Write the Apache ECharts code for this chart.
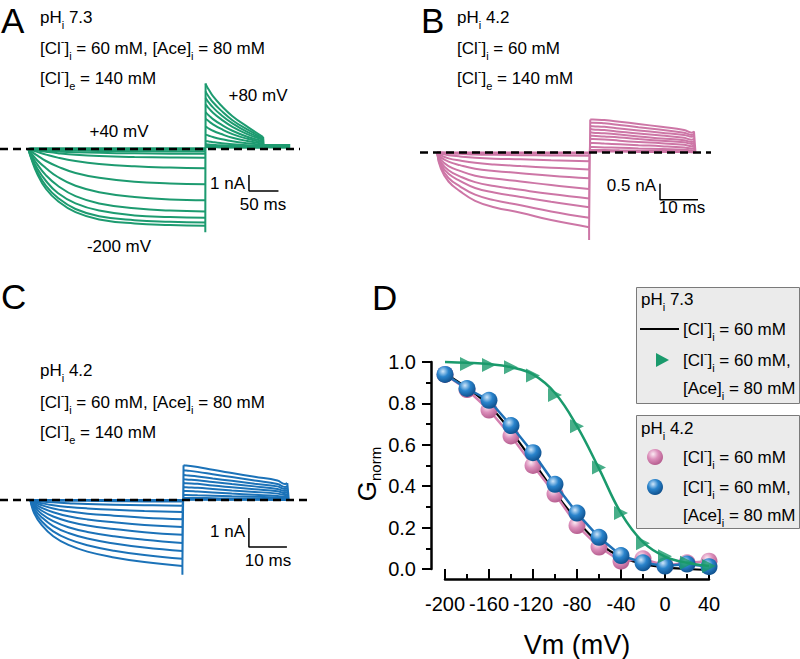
<!DOCTYPE html>
<html><head><meta charset="utf-8">
<script src="https://cdn.jsdelivr.net/npm/echarts@6/dist/echarts.min.js"></script>
<style>html,body{margin:0;padding:0;background:#fff}#c{width:800px;height:659px}</style>
</head><body><div id="c"></div>
<script>
// ---------------- Panel D data (G/Gmax vs Vm) ----------------
const vm = [-200,-180,-160,-140,-120,-100,-80,-60,-40,-20,0,20,40];
const vmTri = [-180,-160,-140,-120,-100,-80,-60,-40,-20,0,20,40];
const gFitPH73Cl = [0.945,0.875,0.79,0.665,0.52,0.37,0.235,0.125,0.058,0.025,0.008,0.0,-0.005];
const gPH73Ace = [0.99,0.986,0.975,0.935,0.84,0.69,0.49,0.27,0.125,0.062,0.03,0.015];
const gFitPH73Ace = [1.0,0.996,0.99,0.975,0.94,0.85,0.69,0.485,0.27,0.13,0.06,0.03,0.015];
const gPH42Cl = [0.94,0.867,0.768,0.643,0.50,0.362,0.21,0.106,0.038,0.049,0.017,0.03,0.038];
const gPH42Ace = [0.94,0.872,0.815,0.693,0.562,0.409,0.27,0.153,0.065,0.03,0.014,0.024,0.011];
const xTicks = [-200,-160,-120,-80,-40,0,40];
const yTicks = [0.0,0.2,0.4,0.6,0.8,1.0];

// ---------------- Panel A traces (nA vs ms), pHi 7.3, Cl 60 + Ace 80 ----------------
const tA_pulse = [0,5,15,30,50,80,120,180,240,300];
const A_pulse = [
 [0,0.05,0.05,0.05,0.05,0.05,0.05,0.05,0.05,0.05],
 [0,-0.01,-0.01,-0.02,-0.02,-0.02,-0.02,-0.02,-0.02,-0.02],
 [0,-0.01,-0.02,-0.03,-0.04,-0.05,-0.05,-0.05,-0.05,-0.05],
 [0,-0.01,-0.03,-0.05,-0.08,-0.1,-0.12,-0.14,-0.15,-0.15],
 [0,-0.02,-0.05,-0.1,-0.15,-0.2,-0.24,-0.27,-0.29,-0.3],
 [0,-0.03,-0.09,-0.17,-0.26,-0.36,-0.44,-0.5,-0.53,-0.55],
 [0,-0.06,-0.18,-0.35,-0.54,-0.75,-0.93,-1.08,-1.16,-1.2],
 [0,-0.15,-0.4,-0.75,-1.1,-1.5,-1.8,-2.05,-2.15,-2.2],
 [0,-0.25,-0.7,-1.2,-1.75,-2.3,-2.7,-3.0,-3.15,-3.2],
 [0,-0.35,-0.95,-1.65,-2.3,-2.95,-3.4,-3.7,-3.85,-3.9],
 [0,-0.45,-1.2,-2.0,-2.75,-3.4,-3.85,-4.15,-4.25,-4.3],
 [0,-0.55,-1.4,-2.3,-3.05,-3.75,-4.2,-4.45,-4.55,-4.6],
 [0,-0.6,-1.55,-2.5,-3.25,-3.95,-4.4,-4.65,-4.75,-4.8]
];
const tA_tail = [300.5,302,306,313,326,346,371,398];
const A_tail = [
 [0.12,0.12,0.11,0.11,0.1,0.1,0.09,0.09],
 [0.15,0.15,0.14,0.13,0.12,0.11,0.1,0.1],
 [0.2,0.2,0.19,0.18,0.16,0.14,0.13,0.12],
 [0.3,0.29,0.28,0.26,0.23,0.2,0.17,0.15],
 [0.5,0.49,0.47,0.43,0.37,0.3,0.24,0.2],
 [0.9,0.88,0.83,0.75,0.63,0.48,0.36,0.27],
 [1.4,1.37,1.28,1.14,0.95,0.7,0.5,0.35],
 [1.9,1.85,1.73,1.54,1.27,0.93,0.64,0.42],
 [2.3,2.24,2.1,1.87,1.55,1.14,0.77,0.5],
 [2.8,2.72,2.54,2.27,1.88,1.38,0.93,0.57],
 [3.2,3.1,2.9,2.6,2.15,1.6,1.07,0.63],
 [3.6,3.48,3.26,2.92,2.43,1.8,1.22,0.69],
 [4.1,3.95,3.7,3.3,2.75,2.05,1.4,0.75]
];
const tA_after = [399,444];
const A_after = [0.08,0.09,0.1,0.12,0.13,0.15,0.16,0.18,0.19,0.2,0.22,0.23,0.25];
const A_capSpike = -0.4;

// ---------------- Panel B traces, pHi 4.2, Cl 60 ----------------
const tB_pulse = [0,1,3,6,10,15,22,30,40];
const B_pulse = [
 [0,0,0,0,0,0,0,0,0],
 [0,0,-0.01,-0.01,-0.02,-0.02,-0.02,-0.03,-0.03],
 [0,-0.01,-0.03,-0.04,-0.06,-0.07,-0.08,-0.09,-0.1],
 [0,-0.04,-0.08,-0.12,-0.16,-0.19,-0.21,-0.24,-0.27],
 [0,-0.09,-0.18,-0.25,-0.32,-0.37,-0.42,-0.47,-0.53],
 [0,-0.15,-0.28,-0.39,-0.5,-0.57,-0.64,-0.72,-0.8],
 [0,-0.23,-0.42,-0.57,-0.72,-0.81,-0.9,-1.01,-1.13],
 [0,-0.3,-0.55,-0.74,-0.92,-1.04,-1.16,-1.29,-1.43],
 [0,-0.37,-0.66,-0.88,-1.1,-1.24,-1.38,-1.53,-1.7],
 [0,-0.44,-0.79,-1.05,-1.31,-1.48,-1.64,-1.83,-2.03],
 [0,-0.5,-0.9,-1.2,-1.5,-1.7,-1.87,-2.1,-2.32]
];
const tB_tail = [40.3,41,44,48,53,59,65,67,67.6];
const B_tail = [
 [0.03,0.03,0.03,0.03,0.02,0.02,0.02,0.01,0.01],
 [0.08,0.08,0.08,0.07,0.06,0.05,0.04,0.03,0.03],
 [0.17,0.17,0.16,0.15,0.13,0.11,0.09,0.07,0.08],
 [0.3,0.3,0.28,0.26,0.23,0.2,0.16,0.13,0.14],
 [0.43,0.42,0.41,0.37,0.33,0.29,0.24,0.2,0.22],
 [0.53,0.52,0.5,0.47,0.42,0.37,0.32,0.27,0.29],
 [0.63,0.62,0.6,0.56,0.5,0.44,0.38,0.33,0.35],
 [0.73,0.72,0.7,0.65,0.59,0.53,0.46,0.4,0.43],
 [0.83,0.82,0.8,0.75,0.69,0.62,0.55,0.49,0.53],
 [0.93,0.93,0.91,0.86,0.79,0.71,0.62,0.55,0.59],
 [1.03,1.03,1.01,0.96,0.89,0.8,0.7,0.62,0.66]
];
const tB_end = 68;
const B_capSpike = -0.4;

// ---------------- Panel C traces, pHi 4.2, Cl 60 + Ace 80 ----------------
const tC_pulse = [0,1,3,6,10,15,22,30,40];
const C_pulse = [
 [0,0,0,0,0,0,0,0,0],
 [0,-0.01,-0.01,-0.02,-0.03,-0.03,-0.04,-0.05,-0.05],
 [0,-0.02,-0.05,-0.08,-0.11,-0.14,-0.16,-0.18,-0.2],
 [0,-0.05,-0.11,-0.18,-0.24,-0.29,-0.34,-0.38,-0.41],
 [0,-0.08,-0.18,-0.29,-0.39,-0.47,-0.54,-0.61,-0.66],
 [0,-0.12,-0.27,-0.42,-0.56,-0.67,-0.77,-0.86,-0.93],
 [0,-0.17,-0.37,-0.57,-0.74,-0.88,-1.0,-1.11,-1.2],
 [0,-0.23,-0.48,-0.73,-0.94,-1.1,-1.25,-1.37,-1.48],
 [0,-0.3,-0.6,-0.9,-1.14,-1.33,-1.5,-1.64,-1.76],
 [0,-0.38,-0.74,-1.08,-1.35,-1.56,-1.75,-1.9,-2.03],
 [0,-0.46,-0.87,-1.25,-1.55,-1.78,-1.98,-2.14,-2.28]
];
const tC_tail = [40.3,41,44,48,53,59,65,67,67.6];
const C_tail = [
 [0.01,0.01,0.01,0.01,0.01,0.01,0,0,0],
 [0.03,0.03,0.03,0.02,0.02,0.02,0.01,0.01,0.01],
 [0.07,0.07,0.07,0.06,0.05,0.05,0.04,0.03,0.03],
 [0.17,0.17,0.16,0.15,0.13,0.11,0.09,0.07,0.07],
 [0.31,0.31,0.29,0.26,0.22,0.18,0.14,0.1,0.11],
 [0.45,0.44,0.42,0.38,0.33,0.28,0.22,0.17,0.18],
 [0.59,0.58,0.56,0.5,0.44,0.37,0.3,0.24,0.26],
 [0.72,0.71,0.68,0.62,0.55,0.47,0.38,0.31,0.33],
 [0.86,0.85,0.81,0.74,0.66,0.56,0.47,0.38,0.4],
 [1.03,1.02,0.97,0.89,0.79,0.67,0.55,0.45,0.48],
 [1.2,1.19,1.14,1.04,0.93,0.8,0.67,0.55,0.58]
];
const tC_end = 68;
const C_capSpike = -0.3;

// scale bars: [amplitude nA, duration ms]
const scaleA = [1, 50];
const scaleB = [0.5, 10];
const scaleC = [1, 10];

// ---------------- build ----------------
const FF = '"Liberation Sans", Arial, Helvetica, sans-serif';
const GREEN = '#1d9b70', PINK = '#cd76a6', BLUE = '#1b72b8';
const TW = 2;
const chart = echarts.init(document.getElementById('c'), null, {renderer:'svg', width:800, height:659});

function zip(ts, vs){ return ts.map((t,j)=>[t, vs[j]]); }
const series = [];
function traces(gi, color, tP, P, tT, T, width){
  P.forEach((p,i)=>{
    series.push({type:'line', xAxisIndex:gi, yAxisIndex:gi, data:zip(tP,p), smooth:0.45,
      showSymbol:false, symbol:'none', lineStyle:{color, width}, z:2, silent:true, animation:false});
    series.push({type:'line', xAxisIndex:gi, yAxisIndex:gi, data:zip(tT,T[i]), smooth:0.45,
      showSymbol:false, symbol:'none', lineStyle:{color, width}, z:2, silent:true, animation:false});
  });
}
function edges(gi, color, tP, P, tT, T, extra, spike, width){
  const d = [];
  const tEnd = tP[tP.length-1];
  const minEnd = Math.min(...P.map(p=>p[p.length-1]));
  d.push([tEnd, minEnd + spike], [tEnd, minEnd], [tEnd, '-']);
  P.forEach((p,i)=>{
    d.push([tEnd, p[p.length-1]], [tT[0], T[i][0]], [tT[0], '-']);
    extra(i).forEach(pt=>d.push(pt));
    d.push([tT[0], '-']);
  });
  series.push({type:'line', xAxisIndex:gi, yAxisIndex:gi, data:d, connectNulls:false, showSymbol:false, symbol:'none',
    lineStyle:{color, width}, z:2, silent:true, animation:false});
}
function dash(gi, x0, x1){
  series.push({type:'line', xAxisIndex:gi, yAxisIndex:gi, data:[[x0,0],[x1,0]], showSymbol:false, symbol:'none',
    lineStyle:{color:'#000', width:2.4, type:[8,5]}, z:5, silent:true, animation:false});
}
function bar(gi, t, i, sc){
  series.push({type:'line', xAxisIndex:gi, yAxisIndex:gi, data:[[t, i+sc[0]],[t,i],[t+sc[1], i]], showSymbol:false, symbol:'none',
    lineStyle:{color:'#000', width:1.5}, z:5, silent:true, animation:false});
}

// panel A
traces(0, GREEN, tA_pulse, A_pulse, tA_tail, A_tail, TW);
edges(0, GREEN, tA_pulse, A_pulse, tA_tail, A_tail, i=>{
  const tl = A_tail[i]; return [[tA_tail[tA_tail.length-1], tl[tl.length-1]], [tA_after[0], A_after[i]], [tA_after[1], A_after[i]]];
}, A_capSpike, TW);
dash(0, -48, 460.5);
bar(0, 374, -2.625, scaleA);
// panel B
traces(1, PINK, tB_pulse, B_pulse, tB_tail, B_tail, TW);
edges(1, PINK, tB_pulse, B_pulse, tB_tail, B_tail, i=>{
  const tl = B_tail[i]; return [[tB_tail[tB_tail.length-1], tl[tl.length-1]], [tB_end, 0]];
}, B_capSpike, TW);
dash(1, -4.5, 72.08);
bar(1, 58.66, -1.467, scaleB);
// panel C
traces(2, BLUE, tC_pulse, C_pulse, tC_tail, C_tail, TW);
edges(2, BLUE, tC_pulse, C_pulse, tC_tail, C_tail, i=>{
  const tl = C_tail[i]; return [[tC_tail[tC_tail.length-1], tl[tl.length-1]], [tC_end, 0]];
}, C_capSpike, TW);
dash(2, -8, 73.05);
bar(2, 57.5, -1.62, scaleC);

// panel D
function sphere(c0, c1, c2){
  return {type:'radial', x:0.38, y:0.32, r:0.72, colorStops:[{offset:0,color:c0},{offset:0.45,color:c1},{offset:1,color:c2}]};
}
const pinkSphere = sphere('#fbeaf3', '#dc8fbb', '#b35a8c');
const blueSphere = sphere('#cfe6fa', '#2a84cc', '#0d4c88');
series.push({name:'fit73Cl', type:'line', xAxisIndex:3, yAxisIndex:3, data:zip(vm,gFitPH73Cl), smooth:0.4, showSymbol:false, symbol:'none',
  lineStyle:{color:'#000', width:2.2}, z:3, clip:false, animation:false});
series.push({name:'pH42Cl', type:'line', xAxisIndex:3, yAxisIndex:3, data:zip(vm,gPH42Cl), symbol:'circle', symbolSize:17, showSymbol:true,
  lineStyle:{color:'#d480b0', width:2.5}, itemStyle:{color:pinkSphere, borderWidth:0}, z:4, clip:false, animation:false});
series.push({name:'pH42Ace', type:'line', xAxisIndex:3, yAxisIndex:3, data:zip(vm,gPH42Ace), symbol:'circle', symbolSize:17, showSymbol:true,
  lineStyle:{color:'#1f70b6', width:2.5}, itemStyle:{color:blueSphere, borderWidth:0}, z:5, clip:false, animation:false});
series.push({name:'fit73Ace', type:'line', xAxisIndex:3, yAxisIndex:3, data:zip(vm,gFitPH73Ace), smooth:0.4, showSymbol:false, symbol:'none',
  lineStyle:{color:'#1a9a6c', width:2.5}, z:6, clip:false, animation:false});
series.push({name:'pH73Ace', type:'scatter', xAxisIndex:3, yAxisIndex:3, data:zip(vmTri,gPH73Ace), symbol:'triangle', symbolSize:14, symbolRotate:-90,
  itemStyle:{color:'#1a9a6c'}, z:7, clip:false, animation:false});

const hid = (gi, min, max)=>({type:'value', gridIndex:gi, min, max, show:false});

// rich text helpers
const rich = {
  n:{fontSize:17, fontFamily:FF, lineHeight:26, verticalAlign:'middle', color:'#000'},
  sp:{fontSize:11, fontFamily:FF, lineHeight:12, verticalAlign:'top', color:'#000'},
  sb:{fontSize:11, fontFamily:FF, lineHeight:12, verticalAlign:'bottom', color:'#000'},
  big:{fontSize:35, fontFamily:FF, lineHeight:36, verticalAlign:'middle', color:'#000'}
};
const n = s=>'{n|'+s+'}';
const CLi = n('[Cl')+'{sp|-}'+n(']')+'{sb|i}';
const CLe = n('[Cl')+'{sp|-}'+n(']')+'{sb|e}';
const ACEi = n('[Ace]')+'{sb|i}';
const PH = v=>n('pH')+'{sb|i}'+n(' '+v);
function T(x, y, s, align){ return {type:'text', x, y, z:100, silent:true,
  style:{text:s, rich, align:align||'left', verticalAlign:'middle', fill:'#000', font:'17px '+FF}}; }

const graphics = [
  T(1, 20, '{big|A}'), T(421, 20, '{big|B}'), T(1, 296, '{big|C}'), T(372, 297, '{big|D}'),
  // A
  T(40, 17, PH('7.3')), T(40, 48, CLi+n(' = 60 mM, ')+ACEi+n(' = 80 mM')), T(40, 78, CLe+n(' = 140 mM')),
  T(119, 131, n('+40 mV'), 'center'), T(258, 95, n('+80 mV'), 'center'), T(119, 246, n('-200 mV'), 'center'),
  T(245, 183, n('1 nA'), 'right'), T(263, 204, n('50 ms'), 'center'),
  // B
  T(457, 17, PH('4.2')), T(457, 48, CLi+n(' = 60 mM')), T(457, 78, CLe+n(' = 140 mM')),
  T(656, 185, n('0.5 nA'), 'right'), T(682, 207, n('10 ms'), 'center'),
  // C
  T(40, 370, PH('4.2')), T(40, 402, CLi+n(' = 60 mM, ')+ACEi+n(' = 80 mM')), T(40, 432, CLe+n(' = 140 mM')),
  T(245, 531, n('1 nA'), 'right'), T(268, 560, n('10 ms'), 'center'),
  // D legend boxes
  {type:'rect', shape:{x:636.5, y:287.5, width:163, height:116}, style:{fill:'#ebebeb', stroke:'#7a7a7a', lineWidth:1}, z:50, silent:true},
  {type:'rect', shape:{x:636.5, y:415.5, width:163, height:113}, style:{fill:'#ebebeb', stroke:'#7a7a7a', lineWidth:1}, z:50, silent:true},
  T(641, 299, PH('7.3')),
  {type:'line', shape:{x1:640, y1:329, x2:679, y2:329}, style:{stroke:'#000', lineWidth:2}, z:101, silent:true},
  T(683, 329, CLi+n(' = 60 mM')),
  {type:'polygon', shape:{points:[[656,353],[669,360],[656,367]]}, style:{fill:'#1a9a6c'}, z:101, silent:true},
  T(683, 360, CLi+n(' = 60 mM,')),
  T(683, 388, ACEi+n(' = 80 mM')),
  T(641, 428, PH('4.2')),
  {type:'circle', shape:{cx:655, cy:457, r:8}, style:{fill:pinkSphere}, z:101, silent:true},
  T(683, 457, CLi+n(' = 60 mM')),
  {type:'circle', shape:{cx:655, cy:487, r:8}, style:{fill:blueSphere}, z:101, silent:true},
  T(683, 487, CLi+n(' = 60 mM,')),
  T(683, 515, ACEi+n(' = 80 mM')),
  // G norm axis title
  {type:'text', x:367, y:474, rotation:Math.PI/2, z:100, silent:true,
   style:{text:'{g|G}{s|norm}', align:'center', verticalAlign:'middle', fill:'#000',
     rich:{g:{fontSize:26, fontFamily:FF, lineHeight:32, verticalAlign:'middle', color:'#000'},
           s:{fontSize:15, fontFamily:FF, lineHeight:15, verticalAlign:'bottom', color:'#000'}}}}
];

chart.setOption({
  animation:false,
  backgroundColor:'#fff',
  textStyle:{fontFamily:FF},
  grid:[
    {left:0, top:69, width:300, height:176},
    {left:420, top:99, width:291, height:150},
    {left:0, top:449.25, width:308, height:137.75},
    {left:445, top:362, width:264, height:211}
  ],
  xAxis:[ hid(0,-48,460.5), hid(1,-4.5,72.08), hid(2,-8,73.05),
    {type:'value', gridIndex:3, min:xTicks[0], max:xTicks[xTicks.length-1], interval:xTicks[1]-xTicks[0], offset:10,
     axisLine:{show:true, onZero:false, lineStyle:{color:'#000', width:2.5}},
     axisTick:{show:true, inside:true, length:10, lineStyle:{color:'#000', width:2}},
     minorTick:{show:true, splitNumber:2, length:5, lineStyle:{color:'#000', width:2}},
     splitLine:{show:false},
     axisLabel:{color:'#000', fontSize:20, fontFamily:FF, margin:15},
     name:'Vm (mV)', nameLocation:'middle', nameGap:52, nameTextStyle:{color:'#000', fontSize:27, fontFamily:FF}}
  ],
  yAxis:[ hid(0,-6,5), hid(1,-3,1.6667), hid(2,-3,1.75),
    {type:'value', gridIndex:3, min:yTicks[0], max:yTicks[yTicks.length-1], interval:0.2, offset:14,
     axisLine:{show:true, onZero:false, lineStyle:{color:'#000', width:2.5}},
     axisTick:{show:true, inside:false, length:9, lineStyle:{color:'#000', width:2}},
     minorTick:{show:true, splitNumber:2, length:5, lineStyle:{color:'#000', width:2}},
     splitLine:{show:false},
     axisLabel:{color:'#000', fontSize:20, fontFamily:FF, margin:15, formatter:v=>v.toFixed(1)}}
  ],
  series,
  graphic:graphics
});
</script>
</body></html>
